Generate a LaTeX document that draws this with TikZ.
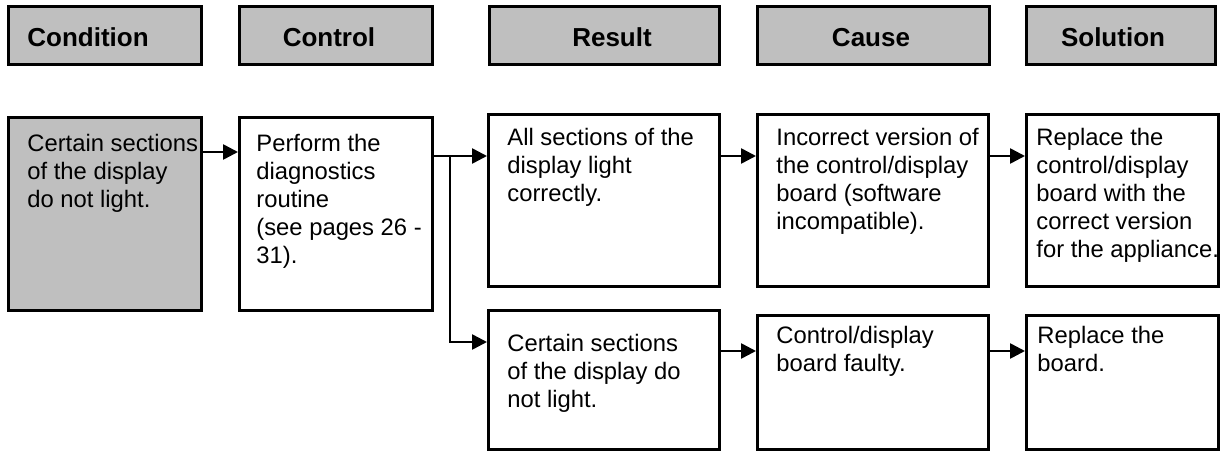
\documentclass[tikz,border=0pt]{standalone}
\usepackage{fontspec}
\setmainfont{Liberation Sans}
\usetikzlibrary{arrows.meta}
\begin{document}
\begin{tikzpicture}[x=0.5pt,y=-0.5pt,
  box/.style={draw=black, line width=1.4pt, inner sep=0pt, anchor=north west},
  hbox/.style={box, fill=black!25, minimum height=29pt},
  gbox/.style={box, fill=black!25},
  wbox/.style={box, fill=white},
  htext/.style={anchor=base, inner sep=0pt, font=\fontsize{13pt}{15pt}\selectfont\bfseries},
  btext/.style={anchor=north west, inner sep=0pt, align=left, font=\fontsize{11.9pt}{14pt}\selectfont},
  conn/.style={line width=1.3pt, -{Triangle[length=7.5pt,width=7.5pt]}}
]
\useasboundingbox (0,0) rectangle (1221,450);
% headers
\node[hbox, minimum width=96.5pt] (hcond) at (7,5) {};
\node[hbox, minimum width=96.5pt] (hctrl) at (238,5) {};
\node[hbox, minimum width=115pt] (hres) at (488,5) {};
\node[hbox, minimum width=116pt] (hcause) at (756,5) {};
\node[hbox, minimum width=94.5pt] (hsol) at (1025,5) {};
\node[htext] (thcond) at (88,46) {Condition};
\node[htext] (thctrl) at (329,46) {Control};
\node[htext] (thres) at (612,46) {Result};
\node[htext] (thcause) at (871,46) {Cause};
\node[htext] (thsol) at (1113,46) {Solution};
% body boxes
\node[gbox, minimum width=96.5pt, minimum height=96.5pt] (cond) at (7,116) {};
\node[wbox, minimum width=96.5pt, minimum height=96.5pt] (ctrl) at (238,116) {};
\node[wbox, minimum width=115.5pt, minimum height=86pt] (res1) at (487,113) {};
\node[wbox, minimum width=115.5pt, minimum height=86pt] (cause1) at (756,113) {};
\node[wbox, minimum width=96pt, minimum height=86pt] (sol1) at (1025,113) {};
\node[wbox, minimum width=115.5pt, minimum height=69.5pt] (res2) at (487,309) {};
\node[wbox, minimum width=115.5pt, minimum height=67pt] (cause2) at (756,314) {};
\node[wbox, minimum width=96pt, minimum height=67pt] (sol2) at (1025,314) {};
% texts
\node[btext] (tcond) at (27,131) {\rule{0pt}{10pt}Certain sections\\of the display\\do not light.};
\node[btext] (tctrl) at (256,131) {\rule{0pt}{10pt}Perform the\\diagnostics\\routine\\(see pages 26 -\\31).};
\node[btext] (tres1) at (507,125) {\rule{0pt}{10pt}All sections of the\\display light\\correctly.};
\node[btext] (tcause1) at (776,125) {\rule{0pt}{10pt}Incorrect version of\\the control/display\\board (software\\incompatible).};
\node[btext] (tsol1) at (1036,125) {\rule{0pt}{10pt}Replace the\\control/display\\board with the\\correct version\\for the appliance.};
\node[btext] (tres2) at (507,331) {\rule{0pt}{10pt}Certain sections\\of the display do\\not light.};
\node[btext] (tcause2) at (776,323) {\rule{0pt}{10pt}Control/display\\board faulty.};
\node[btext] (tsol2) at (1037,323) {\rule{0pt}{10pt}Replace the\\board.};
% connector rows
\coordinate (r1) at (0,152);
\coordinate (r2) at (0,156);
\coordinate (r3) at (0,342);
\coordinate (r5) at (0,351);
\coordinate (jx) at (450,0);
\draw[conn] (cond.east |- r1) -- (ctrl.west |- r1);
\draw[conn] (ctrl.east |- r2) -- (res1.west |- r2);
\draw[conn] (jx |- r2) |- (res2.west |- r3);
\draw[conn] (res1.east |- r2) -- (cause1.west |- r2);
\draw[conn] (cause1.east |- r2) -- (sol1.west |- r2);
\draw[conn] (res2.east |- r5) -- (cause2.west |- r5);
\draw[conn] (cause2.east |- r5) -- (sol2.west |- r5);
\end{tikzpicture}
\end{document}
